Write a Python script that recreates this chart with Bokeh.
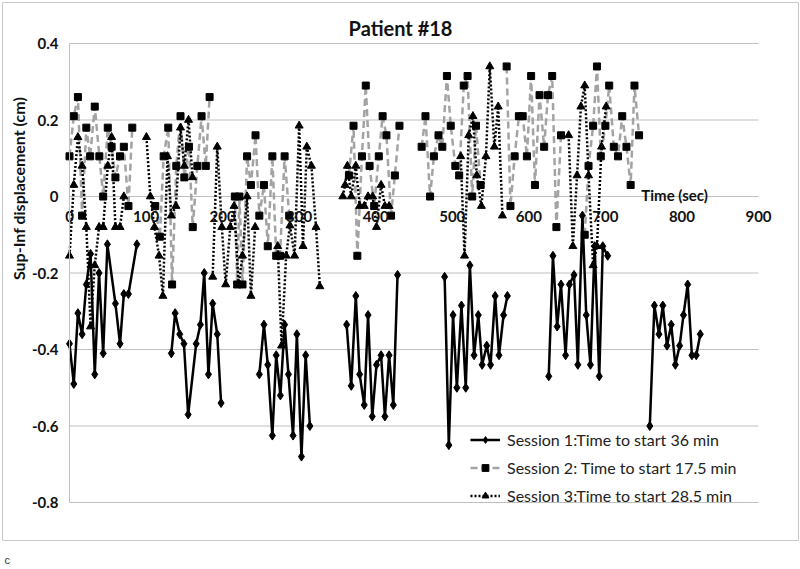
import math
from bokeh.plotting import figure
from bokeh.models import (Range1d, LinearAxis, FixedTicker, Label, Legend,
                          LegendItem, BoxAnnotation)
from bokeh.embed import file_html
from bokeh.resources import INLINE

NaN = float("nan")

# ---------------- data ----------------
title_text = "Patient #18"
y_title = "Sup-Inf displacement (cm)"
x_title = "Time (sec)"
panel_tag = "c"
x_ticks = [0, 100, 200, 300, 400, 500, 600, 700, 800, 900]
y_ticks = [-0.8, -0.6, -0.4, -0.2, 0.0, 0.2, 0.4]
y_tick_labels = ["-0.8", "-0.6", "-0.4", "-0.2", "0", "0.2", "0.4"]

s1_label = "Session 1:Time to start 36 min"
s1_x = [0, 5.6, 11, 16.5, 22, 27.5, 33, 38.6, 44, 49.5, 60, 66, 71, 77, 88, NaN,
        133, 138, 144, 149.5, 155, 165.5, 171, 176, 181.5, 187, 193, 198, NaN,
        248, 254, 259, 265, 270, 275.5, 281, 286, 292, 297, 303, 308.5, 314, NaN,
        362, 368, 374, 379, 385, 390, 395.5, 401, 407, 412, 417.5, 423, 428.5, NaN,
        490, 495.5, 501, 506, 512, 517.6, 523, 528.5, 534, 539, 545, 550, 556, 561, 567, 572, NaN,
        626, 631.5, 637, 642, 648, 653, 659, 664, 670, 675, 680.5, 686, 692, 696.6, 703, NaN,
        758, 764, 770, 775, 780.5, 786, 791.4, 797, 802, 807.5, 813, 818.7, 824]
s1_y = [-0.385, -0.49, -0.305, -0.36, -0.23, -0.15, -0.465, -0.2, -0.41, -0.125, -0.28, -0.385, -0.255, -0.255, -0.125, NaN,
        -0.41, -0.305, -0.36, -0.385, -0.57, -0.385, -0.335, -0.2, -0.465, -0.28, -0.36, -0.54, NaN,
        -0.465, -0.335, -0.44, -0.625, -0.415, -0.52, -0.335, -0.465, -0.625, -0.36, -0.68, -0.415, -0.6, NaN,
        -0.335, -0.495, -0.26, -0.465, -0.545, -0.31, -0.575, -0.44, -0.415, -0.575, -0.415, -0.545, -0.205, NaN,
        -0.21, -0.65, -0.31, -0.50, -0.285, -0.50, -0.18, -0.415, -0.31, -0.44, -0.39, -0.44, -0.26, -0.415, -0.31, -0.26, NaN,
        -0.47, -0.155, -0.34, -0.23, -0.415, -0.23, -0.205, -0.44, -0.05, -0.31, -0.44, -0.13, -0.47, -0.13, -0.155, NaN,
        -0.6, -0.285, -0.36, -0.285, -0.39, -0.335, -0.44, -0.39, -0.31, -0.23, -0.415, -0.415, -0.36]

s2_label = "Session 2: Time to start 17.5 min"
s2_x = [0, 5.6, 11, 16.5, 22, 27, 33, 39, 44, 50, 55, 60, 66, 71, 77, 82, NaN,
        112, 118, 123, 129, 134, 139.5, 145, 150, 156, 161, 167, 172.5, 178, 183, NaN,
        216, 219, 222, 226, 232, 237, 243, 248, 254, 259, 265, 270, 275, 281, 287, NaN,
        365, 371, 376, 382, 387, 392, 398, 404, 409, 414, 420, 425, 431, NaN,
        460, 465, 471, 476, 482, 487, 493, 498, 504, 509, 515, 520, 526, 531, 537, NaN,
        571, 576, 581.5, 587, 592, 597.5, 603, 608, 614, 620, 625, 630.5, 636, 642, NaN,
        673, 678, 684, 689, 694, 700, 705, 711, 716.5, 722, 727.5, 733, 738, 744]
s2_y = [0.105, 0.21, 0.26, -0.05, 0.18, 0.105, 0.235, 0.105, 0.0, 0.18, 0.13, 0.05, 0.105, 0.13, -0.025, 0.18, NaN,
        -0.025, -0.105, 0.105, 0.18, -0.23, 0.08, 0.21, 0.05, 0.13, -0.08, 0.08, 0.21, 0.08, 0.26, NaN,
        0.0, -0.23, 0.0, -0.23, 0.105, 0.03, 0.16, -0.05, 0.03, -0.13, 0.105, -0.155, -0.155, 0.105, -0.05, NaN,
        0.055, 0.185, -0.155, 0.105, 0.29, 0.08, -0.025, 0.105, 0.21, 0.16, -0.05, 0.055, 0.185, NaN,
        0.13, 0.21, 0.0, 0.105, 0.16, 0.13, 0.315, 0.185, 0.08, 0.055, 0.29, 0.315, 0.0, 0.185, 0.03, NaN,
        0.34, -0.025, 0.105, 0.21, 0.21, 0.105, 0.315, 0.03, 0.265, 0.13, 0.265, 0.315, -0.08, 0.16, NaN,
        -0.1, 0.08, 0.185, 0.34, 0.105, 0.185, 0.29, 0.13, 0.105, 0.21, 0.13, 0.03, 0.29, 0.16]

s3_label = "Session 3:Time to start 28.5 min"
s3_x = [0, 5.6, 11, 16.5, 22, 27.5, 33, 38.6, 44, 50, 55, 60, 66, 71, NaN,
        100.5, 105.6, 111, 117, 122, 128, 133, 139, 145, 150, 155.5, 160.7, NaN,
        187, 193, 199, 204, 210, 215, 221, 226, 232, 237, 242.5, NaN,
        272, 277, 283, 288, 294, 300, 305, 310, 316, 322, 327, NaN,
        357, 360, 363, 368, 374, 379, 385, 390, 396, 401, 407, 412, 417.5, NaN,
        511, 516, 521.5, 527, 532, 538, 544, 549, 555, 560, 565.5, NaN,
        652, 657.5, 663, 668, 673, 678, 684, 689, 695, 701]
s3_y = [-0.155, 0.03, 0.155, 0.08, -0.08, -0.34, -0.18, -0.08, -0.08, 0.08, 0.155, -0.08, -0.08, 0.0, NaN,
        0.155, 0.0, -0.08, -0.155, -0.26, 0.105, -0.05, -0.025, 0.18, 0.08, 0.2, 0.05, NaN,
        -0.21, 0.13, -0.08, -0.23, -0.08, -0.025, -0.23, -0.155, 0.0, -0.26, -0.08, NaN,
        -0.13, -0.39, -0.155, -0.076, -0.155, 0.185, -0.13, 0.13, 0.08, -0.08, -0.235, NaN,
        0.0, 0.03, 0.08, 0.0, 0.08, -0.025, -0.025, 0.0, 0.0, -0.08, 0.03, -0.025, -0.025, NaN,
        0.105, -0.155, 0.16, 0.21, 0.055, -0.025, 0.105, 0.34, 0.13, 0.235, -0.05, NaN,
        0.16, -0.13, 0.055, 0.235, 0.29, 0.055, -0.18, -0.13, 0.13, 0.235]

# ---------------- layout geometry (pixels) ----------------
W, H = 800, 569
PLOT_L, PLOT_R = 69, 758      # pixel columns of x = 0 and x = 900
PLOT_T, PLOT_B = 43, 502      # pixel rows of y = 0.4 and y = -0.8
xppu = (PLOT_R - PLOT_L) / (x_ticks[-1] - x_ticks[0])
yppu = (PLOT_B - PLOT_T) / (y_ticks[-1] - y_ticks[0])
x_range = Range1d(x_ticks[0] - PLOT_L / xppu, x_ticks[-1] + (W - PLOT_R) / xppu)
y_range = Range1d(y_ticks[0] - (H - PLOT_B) / yppu, y_ticks[-1] + PLOT_T / yppu)

FONT = "Lato"
GRID = "#bfbfbf"
INK = "#111111"

p = figure(width=W, height=H, output_backend="svg", toolbar_location=None,
           x_range=x_range, y_range=y_range,
           x_axis_location=None, y_axis_location=None,
           min_border=0, min_border_left=0, min_border_right=0,
           min_border_top=0, min_border_bottom=0, outline_line_color=None,
           background_fill_color="white", border_fill_color="white")
for g in p.grid:
    g.visible = False

# horizontal gridlines between x = 0 and x = 900
p.segment(x0=[x_ticks[0]] * len(y_ticks), x1=[x_ticks[-1]] * len(y_ticks),
          y0=y_ticks, y1=y_ticks, line_color=GRID, line_width=1)

yticker = FixedTicker(ticks=y_ticks)
xticker = FixedTicker(ticks=x_ticks)

yaxis = LinearAxis(ticker=yticker, fixed_location=0, bounds=(y_ticks[0], y_ticks[-1]),
                   axis_line_color=GRID, major_tick_line_color=None,
                   minor_tick_line_color=None, major_tick_out=0, major_label_standoff=11,
                   major_label_text_font=FONT, major_label_text_font_style="bold",
                   major_label_text_font_size="15px", major_label_text_color=INK)
yaxis.major_label_overrides = {t: s for t, s in zip(y_ticks, y_tick_labels)}
p.add_layout(yaxis, "left")

xaxis = LinearAxis(ticker=xticker, fixed_location=0, bounds=(x_ticks[0], x_ticks[-1]),
                   axis_line_color=None,
                   major_tick_line_color=None, minor_tick_line_color=None,
                   major_tick_out=0, major_label_standoff=14,
                   major_label_text_font=FONT, major_label_text_font_style="bold",
                   major_label_text_font_size="15px", major_label_text_color=INK)
p.add_layout(xaxis, "below")

# series 1
l1 = p.line(s1_x, s1_y, line_color="black", line_width=2.5)
m1 = p.scatter(s1_x, s1_y, marker="diamond", size=9, fill_color="black",
               line_color="black")
# series 2
l2 = p.line(s2_x, s2_y, line_color="#a3a3a3", line_width=2.5, line_dash="7 4")
m2 = p.scatter(s2_x, s2_y, marker="square", size=7, fill_color="black",
               line_color="black")
# series 3
l3 = p.line(s3_x, s3_y, line_color="black", line_width=2.5, line_dash="2 2")
m3 = p.scatter(s3_x, s3_y, marker="triangle", size=8, fill_color="black",
               line_color="black")

legend = Legend(items=[LegendItem(label=s1_label, renderers=[l1, m1]),
                       LegendItem(label=s2_label, renderers=[l2, m2]),
                       LegendItem(label=s3_label, renderers=[l3, m3])],
                location=(470, 60), padding=0, margin=0, spacing=0,
                glyph_width=30, glyph_height=17, label_height=28,
                label_standoff=7, label_text_font=FONT, label_text_font_size="16px",
                label_text_color="#222222", border_line_color=None,
                background_fill_alpha=0)
p.add_layout(legend, "center")

# chart title
p.add_layout(Label(x=400, y=H - 27, x_units="screen", y_units="screen",
                   text=title_text, text_align="center", text_baseline="middle",
                   text_font=FONT, text_font_style="bold", text_font_size="20px",
                   text_color=INK))
# y-axis title
p.add_layout(Label(x=18, y=H - 188, x_units="screen", y_units="screen",
                   text=y_title, angle=math.pi / 2, text_align="center",
                   text_baseline="middle", text_font=FONT, text_font_style="bold",
                   text_font_size="16px", text_color=INK))
# x-axis title, placed above the axis at the right
p.add_layout(Label(x=747, y=0.005, text=x_title, text_align="left",
                   text_baseline="alphabetic", text_font=FONT,
                   text_font_style="bold", text_font_size="15px",
                   text_color=INK))
# panel tag under the chart box
p.add_layout(Label(x=4, y=4, x_units="screen", y_units="screen", text=panel_tag,
                   text_align="left", text_baseline="bottom",
                   text_font="Liberation Sans", text_font_size="11px",
                   text_color="#333333"))
# chart-area box
p.add_layout(BoxAnnotation(left=2, right=W - 2, bottom=H - 540, top=H - 2,
                           left_units="screen", right_units="screen",
                           bottom_units="screen", top_units="screen",
                           fill_alpha=0, line_color="#c8c8c8", line_width=1,
                           line_alpha=1))

open("out.html", "w").write(file_html(p, INLINE))
